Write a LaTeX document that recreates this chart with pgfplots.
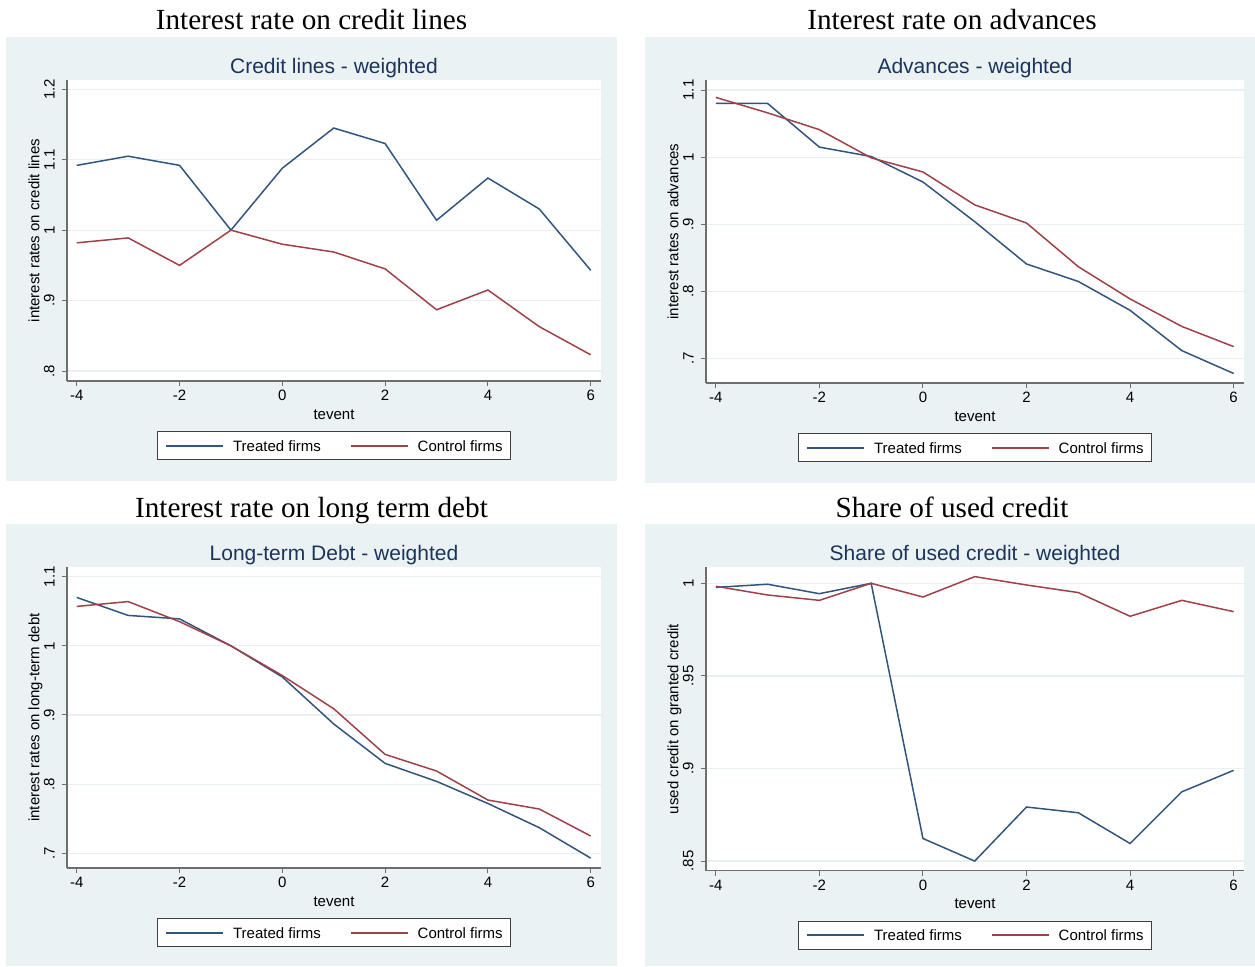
\documentclass[border=0pt]{standalone}
\usepackage{pgfplots}
\pgfplotsset{compat=1.18}
\usepackage{fontspec}
\newfontfamily\sansf{Liberation Sans}
\newfontfamily\serf{Liberation Serif}

\definecolor{panelbg}{RGB}{234,242,243}
\definecolor{gridc}{RGB}{232,240,242}
\definecolor{treated}{RGB}{50,85,125}
\definecolor{control}{RGB}{160,65,72}
\definecolor{subt}{RGB}{28,52,92}
\definecolor{axisc}{RGB}{110,110,110}
\definecolor{legframe}{RGB}{64,64,64}

\pgfplotsset{
  statapanel/.style={
    scale only axis,
    axis lines=left,
    axis line style={-, draw=axisc, line width=0.75pt},
    axis background/.style={fill=white},
    xmin=-4.19, xmax=6.2,
    xtick={-4,-2,0,2,4,6},
    xticklabels={-4,-2,0,2,4,6},
    tick align=outside,
    major tick length=2.5pt,
    tick style={draw=axisc, line width=0.5pt},
    ymajorgrids,
    grid style={draw=gridc, line width=0.6pt},
    tick label style={font=\sansf\fontsize{7.5}{9}\selectfont, text=black},
    xticklabel style={anchor=north, inner sep=0pt},
    yticklabel style={rotate=90, anchor=south, inner sep=0pt},
    xticklabel shift=2pt,
    yticklabel shift=3.5pt,
    xlabel={tevent},
    every axis x label/.style={at={(axis description cs:0.5,0)}, yshift=-19pt, anchor=base,
      font=\sansf\fontsize{7.5}{9}\selectfont},
    every axis y label/.style={at={(axis description cs:0,0.5)}, xshift=-13.8pt, rotate=90, anchor=base,
      font=\sansf\fontsize{7.5}{9}\selectfont},
    every axis title/.style={font=\sansf\fontsize{10.5}{12}\selectfont, text=subt,
      at={(axis description cs:0.5,1)}, anchor=base, yshift=3.5pt},
    legend columns=2,
    legend image code/.code={\draw[#1, line width=0.9pt] (0pt,0pt) -- (28.5pt,0pt);},
    legend style={at={(axis description cs:0.5,0)}, anchor=center, yshift=-32.3pt,
      draw=legframe, fill=white,
      font=\sansf\fontsize{7.5}{9}\selectfont,
      inner xsep=3.75pt, inner ysep=4.2pt,
      nodes={inner sep=0pt, text height=5.4pt, text depth=0pt},
      /tikz/every odd column/.append style={column sep=4.5pt},
      /tikz/every even column/.append style={column sep=14.5pt}},
  }
}

\begin{document}
\begin{tikzpicture}
\useasboundingbox (0pt,0pt) rectangle (627.5pt,-483pt);
% panel backgrounds
\fill[panelbg] (3pt,-18.5pt) rectangle (308.5pt,-240.5pt);
\fill[panelbg] (322.5pt,-18.5pt) rectangle (627.5pt,-241.5pt);
\fill[panelbg] (3pt,-262pt) rectangle (308.5pt,-483pt);
\fill[panelbg] (322.5pt,-262pt) rectangle (627.5pt,-483pt);
% figure titles
\node[anchor=base, font=\serf\fontsize{14.6}{16}\selectfont] at (155.75pt,-14.5pt) {Interest rate on credit lines};
\node[anchor=base, font=\serf\fontsize{14.6}{16}\selectfont] at (476pt,-14.5pt) {Interest rate on advances};
\node[anchor=base, font=\serf\fontsize{14.6}{16}\selectfont] at (155.75pt,-258.5pt) {Interest rate on long term debt};
\node[anchor=base, font=\serf\fontsize{14.6}{16}\selectfont] at (476pt,-258.5pt) {Share of used credit};

% credit lines
\begin{axis}[statapanel, at={(33.5pt,-190.5pt)}, anchor=south west,
    width=267pt, height=150.5pt,
    ymin=0.7858, ymax=1.2132,
    ytick={0.8,0.9,1,1.1,1.2}, yticklabels={.8,.9,1,1.1,1.2},
    ylabel={interest rates on credit lines},
    title={Credit lines - weighted}]
\addplot[color=treated, line width=0.75pt] coordinates {
  (-4,1.092) (-3,1.105) (-2,1.092) (-1,1.000) (0,1.088) (1,1.145)
  (2,1.123) (3,1.014) (4,1.074) (5,1.030) (6,0.943)};
\addlegendentry{Treated firms}
\addplot[color=control, line width=0.75pt] coordinates {
  (-4,0.982) (-3,0.989) (-2,0.950) (-1,1.000) (0,0.980) (1,0.969)
  (2,0.945) (3,0.887) (4,0.915) (5,0.863) (6,0.823)};
\addlegendentry{Control firms}
\end{axis}

% advances
\begin{axis}[statapanel, at={(353pt,-191.5pt)}, anchor=south west,
    width=269pt, height=151.5pt,
    ymin=0.6638, ymax=1.1149,
    ytick={0.7,0.8,0.9,1,1.1}, yticklabels={.7,.8,.9,1,1.1},
    ylabel={interest rates on advances},
    title={Advances - weighted}]
\addplot[color=treated, line width=0.75pt] coordinates {
  (-4,1.080) (-3,1.080) (-2,1.015) (-1,1.001) (0,0.963) (1,0.904)
  (2,0.841) (3,0.815) (4,0.772) (5,0.712) (6,0.678)};
\addlegendentry{Treated firms}
\addplot[color=control, line width=0.75pt] coordinates {
  (-4,1.089) (-3,1.066) (-2,1.041) (-1,0.999) (0,0.978) (1,0.929)
  (2,0.902) (3,0.837) (4,0.789) (5,0.748) (6,0.718)};
\addlegendentry{Control firms}
\end{axis}

% long-term debt
\begin{axis}[statapanel, at={(33.5pt,-434pt)}, anchor=south west,
    width=267pt, height=150.5pt,
    ymin=0.6787, ymax=1.114,
    ytick={0.7,0.8,0.9,1,1.1}, yticklabels={.7,.8,.9,1,1.1},
    ylabel={interest rates on long-term debt},
    title={Long-term Debt - weighted}]
\addplot[color=treated, line width=0.75pt] coordinates {
  (-4,1.070) (-3,1.044) (-2,1.039) (-1,1.000) (0,0.955) (1,0.887)
  (2,0.830) (3,0.804) (4,0.772) (5,0.737) (6,0.693)};
\addlegendentry{Treated firms}
\addplot[color=control, line width=0.75pt] coordinates {
  (-4,1.057) (-3,1.064) (-2,1.035) (-1,1.000) (0,0.957) (1,0.909)
  (2,0.843) (3,0.819) (4,0.777) (5,0.764) (6,0.725)};
\addlegendentry{Control firms}
\end{axis}

% share of used credit
\begin{axis}[statapanel, at={(353pt,-435.35pt)}, anchor=south west,
    width=269pt, height=151.7pt,
    ymin=0.8448, ymax=1.00864,
    ytick={0.85,0.9,0.95,1}, yticklabels={.85,.9,.95,1},
    ylabel={used credit on granted credit},
    title={Share of used credit - weighted}]
\addplot[color=treated, line width=0.75pt] coordinates {
  (-4,0.9978) (-3,0.9995) (-2,0.9944) (-1,1.0000) (0,0.8622) (1,0.8500)
  (2,0.8792) (3,0.8761) (4,0.8595) (5,0.8874) (6,0.8990)};
\addlegendentry{Treated firms}
\addplot[color=control, line width=0.75pt] coordinates {
  (-4,0.9984) (-3,0.9937) (-2,0.9908) (-1,1.0000) (0,0.9926) (1,1.0036)
  (2,0.9991) (3,0.9950) (4,0.9822) (5,0.9908) (6,0.9847)};
\addlegendentry{Control firms}
\end{axis}
\end{tikzpicture}
\end{document}
